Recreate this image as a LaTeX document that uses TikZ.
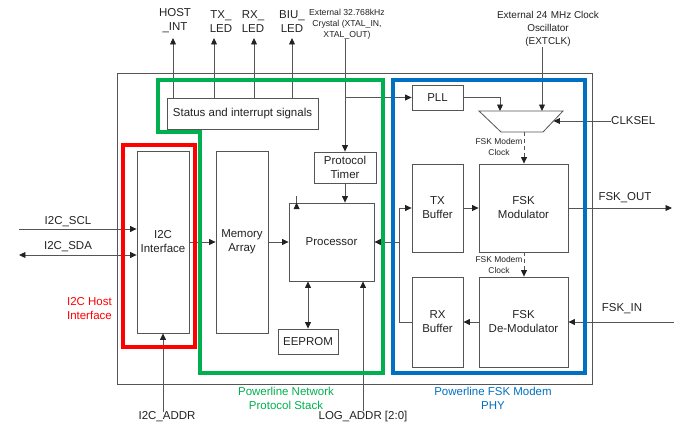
\documentclass[tikz,border=0pt]{standalone}
\usepackage{fontspec}
\setmainfont{Liberation Sans}
\usetikzlibrary{arrows.meta,calc}
\definecolor{lgreen}{HTML}{00B050}
\definecolor{lred}{HTML}{FF0000}
\definecolor{lblue}{HTML}{0070C0}
\definecolor{lnc}{HTML}{555555}
\definecolor{txc}{HTML}{222222}
\newcommand\fmainx{\fontsize{9.8}{12}\selectfont}
\newcommand\fsmallx{\fontsize{7.2}{8.6}\selectfont}
\newcommand\fxtalx{\fontsize{7.4}{9.3}\selectfont}
\newcommand\fextx{\fontsize{8.5}{11}\selectfont}
\newcommand\pboxx[6]{\node[box, minimum width={(#4-#2)*0.03cm}, minimum height={(#5-#3)*0.03cm}] (#1) at ({(#2+#4)/2},{(#3+#5)/2}) {#6};}
\begin{document}
\begin{tikzpicture}[x=0.03cm,y=-0.03cm,
  box/.style={draw=lnc, line width=0.7pt, inner sep=0pt, align=center, text=txc, font=\fmainx},
  lbl/.style={inner sep=0pt, align=center, text=txc, font=\fmainx},
  arr/.style={draw=lnc, line width=0.7pt, -{Triangle[length=5.5pt,width=5pt,color=txc]}},
  arrtwo/.style={draw=lnc, line width=0.7pt, {Triangle[length=5.5pt,width=5pt,color=txc]}-{Triangle[length=5.5pt,width=5pt,color=txc]}},
  frame/.style={line width=3.4pt}]
\useasboundingbox (0,0) rectangle (674,423);

% outer chip box
\node[draw=lnc, line width=0.6pt, inner sep=0pt, minimum width={475*0.03cm}, minimum height={311*0.03cm}] (chip) at (354.5,228.5) {};

% blocks
\pboxx{i2c}{137}{151}{189}{333}{I2C\\Interface}
\pboxx{mem}{216}{151}{268}{333}{Memory\\Array}
\pboxx{proc}{289}{203}{374}{281}{Processor}
\pboxx{eeprom}{278}{329}{338}{354}{EEPROM}
\pboxx{timer}{314}{152}{376}{183}{Protocol\\Timer}
\pboxx{status}{167}{98}{318}{129}{Status and interrupt signals}
\pboxx{pll}{412}{85}{463}{110}{PLL}
\pboxx{txb}{412}{164}{463}{252}{TX\\Buffer}
\pboxx{mod}{479}{164}{568}{252}{FSK\\Modulator}
\pboxx{rxb}{412}{277}{463}{367}{RX\\Buffer}
\pboxx{demod}{479}{277}{568}{367}{FSK\\De-Modulator}

% mux
\coordinate (muxTL) at (479,111);
\coordinate (muxTR) at (563,111);
\coordinate (muxBR) at (543,132);
\coordinate (muxBL) at (501,132);
\draw[lnc, line width=0.7pt] (muxTL) -- (muxTR) -- (muxBR) -- (muxBL) -- cycle;
\coordinate (muxA) at (500,111);
\coordinate (muxB) at (542,111);
\coordinate (muxC) at (553.5,121);
\coordinate (muxD) at (524,132);

% outside labels
\node[lbl] (hostl) at (175,21) {HOST\\\_INT};
\node[lbl] (txl) at (221,22) {TX\_\\LED};
\node[lbl] (rxl) at (253,22) {RX\_\\LED};
\node[lbl] (biul) at (292,22) {BIU\_\\LED};
\coordinate (hostT) at (173,38);
\coordinate (txT) at (214,38);
\coordinate (rxT) at (254,38);
\coordinate (biuT) at (292,38);
\node[lbl, font=\fxtalx] (xtal) at (347,24) {External 32.768kHz\\Crystal (XTAL\_IN,\\XTAL\_OUT)};
\node[lbl, font=\fextx] (extl) at (548,29) {External 24\,\,MHz Clock\\Oscillator\\(EXTCLK)};
\node[lbl, anchor=west] (clksel) at (611,121) {CLKSEL};
\node[lbl] (scll) at (68,222) {I2C\_SCL};
\node[lbl] (sdal) at (68,247) {I2C\_SDA};
\coordinate (sclS) at (19,229);
\coordinate (sdaS) at (19,255);
\node[lbl] (addrl) at (167,417) {I2C\_ADDR};
\node[lbl] (logl) at (363,417) {LOG\_ADDR [2:0]};
\node[lbl] (outl) at (625,198) {FSK\_OUT};
\node[lbl] (inl) at (622,309) {FSK\_IN};
\coordinate (outT) at (672,208);
\coordinate (inS) at (674,322);
\node[lbl, font=\fsmallx] (clk1) at (499,147) {FSK Modem\\Clock};
\node[lbl, font=\fsmallx] (clk2) at (499,265) {FSK Modem\\Clock};

% connectors
\draw[arr] (hostT |- status.north) -- (hostT);
\draw[arr] (txT |- status.north) -- (txT);
\draw[arr] (rxT |- status.north) -- (rxT);
\draw[arr] (biuT |- status.north) -- (biuT);
\draw[arr] (sclS) -- (sclS -| i2c.west);
\draw[arrtwo] (sdaS) -- (sdaS -| i2c.west);
\draw[arr] (i2c.east) -- (mem.west);
\draw[arr] (mem.east) -- (proc.west);
\draw[arr] ($(proc.north west)+(8,0)$) -- ($(proc.north west)+(8,0)$ |- status.south);
\draw[arrtwo] (eeprom.north) -- (eeprom.north |- proc.south);
\draw[arr] (timer.south) -- (timer.south |- proc.north);
\draw[arr] (timer.north |- xtal.south) -- (timer.north);
\draw[arr] (timer.north |- pll.west) -- (pll.west);
\draw[arr] (i2c.south |- addrl.north) -- (i2c.south);
\draw[arr] (logl.north) -- (logl.north |- proc.south);
\draw[arr] (pll.east) -| (muxA);
\draw[arr] (muxB |- extl.south) -- (muxB);
\draw[arr] (clksel.west) -- (muxC);
\draw[arr, dashed] (muxD) -- (muxD |- mod.north);
\draw[arr, dashed] (muxD |- mod.south) -- (muxD |- demod.north);
\draw[arr] (txb.east) -- (mod.west);
\draw[arr] (mod.east) -- (mod.east -| outT);
\draw[arr] (inS) -- (inS -| demod.east);
\draw[arr] (demod.west) -- (rxb.east);
\coordinate (busT) at ($(txb.west)+(-12,0)$);
\draw[arr] (rxb.west) -| (busT) -- (txb.west);
\draw[arr] (busT |- proc.east) -- (proc.east);

% group frames
\draw[lgreen, frame] (158,80) -- (383,80) -- (383,373) -- (200,373) -- (200,132) -- (158,132) -- cycle;
\draw[lred, frame] (123,145) rectangle (195,347);
\draw[lblue, frame] (393,80) rectangle (585,373);
\node[lbl, text=lred, align=right, anchor=east] (redl) at (112,309) {I2C Host\\Interface};
\node[lbl, text=lgreen] (greenl) at (286,398) {Powerline Network\\Protocol Stack};
\node[lbl, text=lblue] (bluel) at (493,398) {Powerline FSK Modem\\PHY};
\end{tikzpicture}
\end{document}
